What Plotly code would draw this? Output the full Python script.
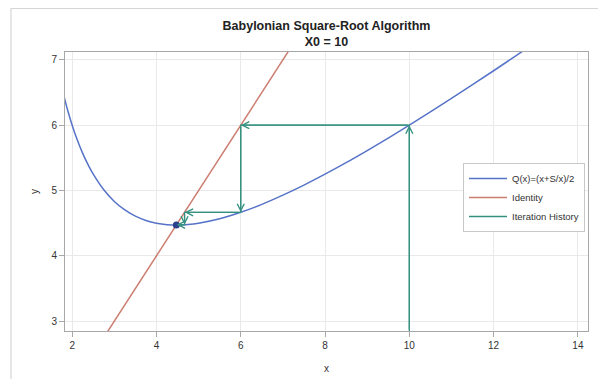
import plotly.graph_objects as go

# Curve Q(x) = (x + S/x)/2 with S = 20
curve_x = [1.8, 1.9, 2.0, 2.1, 2.25, 2.4, 2.5, 2.75, 3.0, 3.25, 3.5, 3.75, 4.0, 4.25, 4.5,
           4.75, 5.0, 5.5, 6.0, 6.5, 7.0, 7.5, 8.0, 8.5, 9.0, 9.5, 10.0, 10.5, 11.0, 11.5,
           12.0, 12.5, 13.0]
curve_y = [6.456, 6.213, 6.000, 5.812, 5.569, 5.367, 5.250, 5.011, 4.833, 4.702, 4.607,
           4.542, 4.500, 4.478, 4.472, 4.480, 4.500, 4.568, 4.667, 4.788, 4.929, 5.083,
           5.250, 5.426, 5.611, 5.803, 6.000, 6.202, 6.409, 6.620, 6.833, 7.050, 7.269]

identity_x = [2.0, 8.0]
identity_y = [2.0, 8.0]

hist_x = [10.0, 10.0, 6.0, 6.0, 4.6667, 4.6667, 4.4762, 4.4762]
hist_y = [0.0, 6.0, 6.0, 4.6667, 4.6667, 4.4762, 4.4762, 4.4721]

root_x = [4.4721]
root_y = [4.4721]

x_ticks = [2, 4, 6, 8, 10, 12, 14]
y_ticks = [3, 4, 5, 6, 7]
x_range = [1.83, 14.24]
y_range = [2.85, 7.12]

BLUE = "#5673c8"
RED = "#cc7d70"
TEAL = "#35917f"
FONT = "Liberation Sans, Arial, sans-serif"

fig = go.Figure()
fig.add_trace(go.Scatter(x=curve_x, y=curve_y, mode="lines", name="Q(x)=(x+S/x)/2",
                         line=dict(color=BLUE, width=1.5, shape="spline")))
fig.add_trace(go.Scatter(x=identity_x, y=identity_y, mode="lines", name="Identity",
                         line=dict(color=RED, width=1.5)))
fig.add_trace(go.Scatter(x=hist_x, y=hist_y, mode="lines", name="Iteration History",
                         line=dict(color=TEAL, width=1.3)))
fig.add_trace(go.Scatter(x=root_x, y=root_y, mode="markers", showlegend=False,
                         marker=dict(color="#2c3f8f", size=7)))

# arrowheads at the end of each iteration segment (last vertical step is negligible)
for i in range(1, len(hist_x) - 1):
    tx, ty = hist_x[i - 1], max(hist_y[i - 1], y_range[0])
    fig.add_annotation(x=hist_x[i], y=hist_y[i], ax=tx, ay=ty, xref="x", yref="y",
                       axref="x", ayref="y", text="", showarrow=True, arrowhead=5,
                       arrowsize=1.15, arrowwidth=1.2, arrowcolor=TEAL, standoff=0)

axis_common = dict(showline=True, linecolor="#a8a8a8", linewidth=1, mirror=True,
                   showgrid=True, gridcolor="#e9e9e9", gridwidth=1, zeroline=False,
                   ticks="outside", ticklen=5, tickcolor="#a8a8a8", automargin=False,
                   tickfont=dict(family=FONT, size=10, color="#333333"))

fig.update_xaxes(range=x_range, tickvals=x_ticks, title=dict(text="x", standoff=14,
                 font=dict(family=FONT, size=10, color="#333333")), **axis_common)
fig.update_yaxes(range=y_range, tickvals=y_ticks, title=dict(text="y", standoff=10,
                 font=dict(family=FONT, size=10, color="#333333")), **axis_common)

# page body has an 8px margin, so the figure starts at (8, 8) in the window
OFF = 8
W, H = 606 - OFF, 379 - OFF
L, T = 65 - OFF, 52 - OFF
R = W - (588 - OFF)
B = H - (331 - OFF)
pw, ph = W - L - R, H - T - B

def px_x(p):
    return (p - OFF - L) / pw

def px_y(p):
    return (H - B - (p - OFF)) / ph

fig.add_shape(type="rect", xref="paper", yref="paper",
              x0=px_x(11), x1=px_x(603), y0=px_y(400), y1=px_y(8.5),
              line=dict(color="#d6d6d6", width=1.2), layer="below")

fig.update_layout(
    width=W, height=H,
    margin=dict(l=L, r=R, t=T, b=B),
    paper_bgcolor="white", plot_bgcolor="white",
    title=dict(text="<b>Babylonian Square-Root Algorithm</b><br><b>X0 = 10</b>",
               x=0.5, xref="paper", xanchor="center", y=1 - (30 - OFF) / H, yanchor="middle",
               font=dict(family="Liberation Sans Narrow, Arial Narrow, Liberation Sans, Arial, sans-serif",
                         size=12.5, color="#222222")),
    legend=dict(x=px_x(463), y=px_y(163), xanchor="left", yanchor="top",
                bgcolor="white", bordercolor="#c8c8c8", borderwidth=1,
                font=dict(family=FONT, size=9.5, color="#333333"),
                itemwidth=38, tracegroupgap=0),
    showlegend=True,
)

fig.write_html("out.html")
